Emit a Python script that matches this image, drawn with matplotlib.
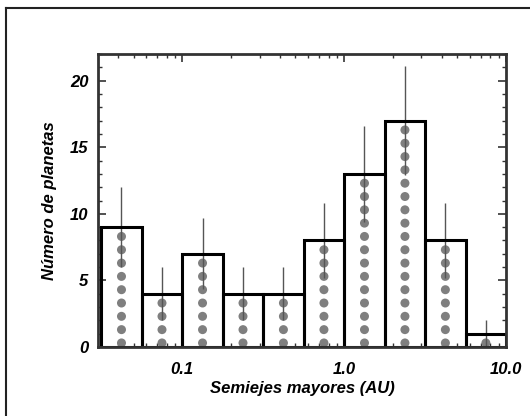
"""Histograma de semiejes mayores de planetas extrasolares."""

import numpy as np
import matplotlib
matplotlib.use('Agg')
import matplotlib.pyplot as plt
from matplotlib.ticker import FixedLocator, MultipleLocator, LogLocator, NullFormatter
from matplotlib.lines import Line2D

# bordes de los bins (AU) y numero de planetas por bin
bin_edges = [0.0316, 0.0562, 0.1, 0.178, 0.316, 0.562, 1.0, 1.78, 3.16, 5.62, 10.0]
counts = [9, 4, 7, 4, 4, 8, 13, 17, 8, 1]
errors = [3.0, 2.0, 2.65, 2.0, 2.0, 2.83, 3.6, 4.1, 2.83, 1.0]
xtick_vals = [0.1, 1.0, 10.0]
xtick_labels = ['0.1', '1.0', '10.0']

font = ['Liberation Sans Narrow', 'Liberation Sans', 'DejaVu Sans']
plt.rcParams['font.family'] = font
plt.rcParams['font.weight'] = 'bold'
plt.rcParams['font.style'] = 'italic'
plt.rcParams['axes.labelweight'] = 'bold'

fig = plt.figure(figsize=(5.30, 4.16), dpi=100)
ax = fig.add_axes([0.185, 0.166, 0.770, 0.704])

left = np.array(bin_edges[:-1])
right = np.array(bin_edges[1:])
widths = right - left
centers = np.sqrt(left * right)

# relleno blanco
ax.bar(left, counts, width=widths, align='edge', color='white',
       edgecolor='none', zorder=1)

# columnas de puntos grises, uno por planeta
for c, n in zip(centers, counts):
    ys = np.arange(n) + 0.3
    ax.scatter(np.full(n, c), ys, s=42, color='#7f7f7f', edgecolors='none',
               zorder=2, clip_on=True)

# barras de error
ax.errorbar(centers, counts, yerr=errors, fmt='none', ecolor='#555555',
            elinewidth=1.0, capsize=0, zorder=3)

# contorno de las barras
ax.bar(left, counts, width=widths, align='edge', color='none',
       edgecolor='black', linewidth=2.2, zorder=4)

ax.set_xscale('log')
ax.set_xlim(0.0302, 10.0)
ax.set_ylim(0, 22)

ax.xaxis.set_major_locator(FixedLocator(xtick_vals))
ax.set_xticklabels(xtick_labels)
ax.xaxis.set_minor_locator(LogLocator(base=10, subs=np.arange(2, 10)))
ax.xaxis.set_minor_formatter(NullFormatter())
ax.yaxis.set_major_locator(MultipleLocator(5))
ax.yaxis.set_minor_locator(MultipleLocator(1))

ax.tick_params(which='both', direction='in', top=True, right=True,
               color='#333333', labelsize=12, pad=7)
ax.tick_params(which='major', length=6, width=1.2)
ax.tick_params(which='minor', length=3, width=1.0)
ax.tick_params(axis='x', which='major', pad=11)

for sp in ax.spines.values():
    sp.set_linewidth(2.0)
    sp.set_color('#333333')
    sp.set_zorder(5)

ax.set_xlabel('Semiejes mayores (AU)', fontsize=12, fontweight='bold', labelpad=3)
ax.set_ylabel('Número de planetas', fontsize=12, fontweight='bold', labelpad=9)

# marco de la figura (solo izquierda y arriba)
fig.add_artist(Line2D([0.012, 0.012], [0.0, 0.981], transform=fig.transFigure,
                      color='#222222', linewidth=1.5))
fig.add_artist(Line2D([0.012, 1.0], [0.981, 0.981], transform=fig.transFigure,
                      color='#222222', linewidth=1.5))

fig.savefig('out.png', dpi=100)
